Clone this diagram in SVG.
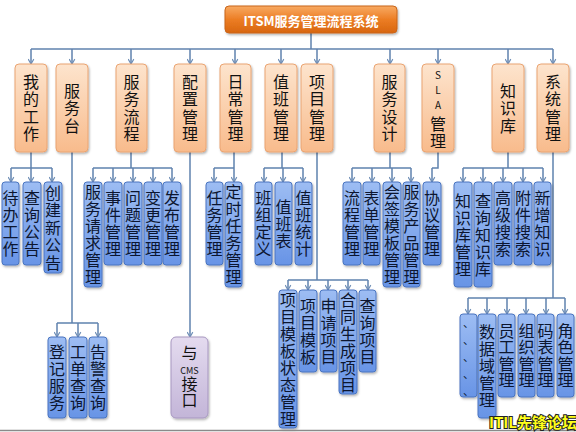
<svg xmlns="http://www.w3.org/2000/svg" width="576" height="432" viewBox="0 0 576 432">
<defs>
<linearGradient id="gTop" x1="0" y1="0" x2="0" y2="1"><stop offset="0" stop-color="#f8aa62"/><stop offset="0.5" stop-color="#ec7d24"/><stop offset="1" stop-color="#d8660f"/></linearGradient>
<linearGradient id="gOr" x1="0" y1="0" x2="0" y2="1"><stop offset="0" stop-color="#fde4cd"/><stop offset="1" stop-color="#f8bb8c"/></linearGradient>
<linearGradient id="gBl" x1="0" y1="0" x2="0" y2="1"><stop offset="0" stop-color="#9dbdf3"/><stop offset="1" stop-color="#6894e6"/></linearGradient>
<linearGradient id="gPu" x1="0" y1="0" x2="0" y2="1"><stop offset="0" stop-color="#e4dbef"/><stop offset="1" stop-color="#c3b5d8"/></linearGradient>
<filter id="sh" x="-30%" y="-10%" width="160%" height="125%"><feDropShadow dx="1" dy="1.5" stdDeviation="1" flood-color="#000" flood-opacity="0.3"/></filter>
<marker id="ar" viewBox="0 0 10 10" refX="9" refY="5" markerWidth="7" markerHeight="7" markerUnits="userSpaceOnUse" orient="auto"><path d="M2,1 L9,5 L2,9" fill="none" stroke="#6d8db5" stroke-width="1.6"/></marker>
</defs>
<style>
.top{fill:url(#gTop);stroke:#c9651a;stroke-width:1;filter:url(#sh)}
.l1{fill:url(#gOr);stroke:#eaa472;stroke-width:1;filter:url(#sh)}
.l2{fill:url(#gBl);stroke:#4a74c0;stroke-width:1;filter:url(#sh)}
.pu{fill:url(#gPu);stroke:#a797c0;stroke-width:1;filter:url(#sh)}
text{font-family:"Noto Sans CJK SC","Noto Sans",sans-serif;text-anchor:middle;dominant-baseline:central}
.v{writing-mode:vertical-rl;text-orientation:upright;letter-spacing:1px}
.v15{letter-spacing:1.5px}
.v05{letter-spacing:0.5px}
.v0{letter-spacing:0}
.tt{fill:#fff;font-weight:bold;font-size:13px}
.t1{fill:#111;font-size:16px}
.t2{fill:#0c1630;font-size:16px}
.sm{font-size:10px;letter-spacing:5px}
.cms{font-size:9px}
.dot{font-size:11px}
#conn path{fill:none;stroke:#5f82ae;stroke-width:1.5}
#conn path.a{marker-end:url(#ar)}
.wm{font-family:"Noto Sans CJK SC",sans-serif;font-weight:bold;font-size:15px;fill:#ffff1a;stroke:#222;stroke-width:2;paint-order:stroke;text-anchor:start;dominant-baseline:auto}
</style>
<rect x="0" y="0" width="576" height="432" fill="#fff"/>
<g id="conn">
<path d="M311,33 V49"/><path d="M31,49 H553"/>
<path class="a" d="M31,49 V64"/><path class="a" d="M72,49 V64"/><path class="a" d="M131,49 V64"/><path class="a" d="M190,49 V64"/><path class="a" d="M235,49 V64"/><path class="a" d="M281,49 V64"/><path class="a" d="M317,49 V64"/><path class="a" d="M390,49 V64"/><path class="a" d="M438,49 V64"/><path class="a" d="M508,49 V64"/><path class="a" d="M553,49 V64"/>
<path d="M31,152 V168 M11,168 H52"/><path class="a" d="M11,168 V182"/><path class="a" d="M31,168 V182"/><path class="a" d="M52,168 V182"/>
<path d="M72,152 V323 M57,323 H98"/><path class="a" d="M57,323 V337"/><path class="a" d="M78,323 V337"/><path class="a" d="M98,323 V337"/>
<path d="M131,152 V168 M93,168 H172"/><path class="a" d="M93,168 V182"/><path class="a" d="M113,168 V182"/><path class="a" d="M133,168 V182"/><path class="a" d="M153,168 V182"/><path class="a" d="M172,168 V182"/>
<path class="a" d="M190,152 V337"/>
<path d="M234,152 V168 M214,168 H234"/><path class="a" d="M214,168 V182"/><path class="a" d="M234,168 V182"/>
<path d="M282,152 V168 M264,168 H303"/><path class="a" d="M264,168 V182"/><path class="a" d="M283,168 V182"/><path class="a" d="M303,168 V182"/>
<path d="M317,152 V280 M288,280 H368"/><path class="a" d="M288,280 V290"/><path class="a" d="M308,280 V290"/><path class="a" d="M328,280 V290"/><path class="a" d="M348,280 V290"/><path class="a" d="M368,280 V290"/>
<path d="M390,152 V168 M352,168 H411"/><path class="a" d="M352,168 V182"/><path class="a" d="M372,168 V182"/><path class="a" d="M392,168 V182"/><path class="a" d="M411,168 V182"/>
<path d="M438,152 V168 H432"/><path class="a" d="M432,168 V182"/>
<path d="M508,152 V168 M463,168 H543"/><path class="a" d="M463,168 V182"/><path class="a" d="M483,168 V182"/><path class="a" d="M503,168 V182"/><path class="a" d="M523,168 V182"/><path class="a" d="M543,168 V182"/>
<path d="M553,152 V298 M468,298 H565"/><path class="a" d="M468,298 V314"/><path class="a" d="M487,298 V314"/><path class="a" d="M507,298 V314"/><path class="a" d="M526,298 V314"/><path class="a" d="M546,298 V314"/><path class="a" d="M565,298 V314"/>
</g>
<g id="n-root"><rect class="top" x="225" y="6" width="172" height="27" rx="4"/><text class="tt" x="311" y="20">ITSM服务管理流程系统</text></g>
<!-- level 1 -->
<g id="n-mywork"><rect class="l1" x="15" y="64" width="32" height="88" rx="4"/><text class="t1 v v15" x="31" y="108.75">我的工作</text></g>
<g id="n-desk"><rect class="l1" x="56" y="64" width="32" height="88" rx="4"/><text class="t1 v v15" x="72" y="108.75">服务台</text></g>
<g id="n-flow"><rect class="l1" x="116" y="64" width="31" height="88" rx="4"/><text class="t1 v v15" x="131.5" y="108.75">服务流程</text></g>
<g id="n-config"><rect class="l1" x="174" y="64" width="32" height="88" rx="4"/><text class="t1 v v15" x="190" y="108.75">配置管理</text></g>
<g id="n-daily"><rect class="l1" x="220" y="64" width="31" height="88" rx="4"/><text class="t1 v v15" x="235.5" y="108.75">日常管理</text></g>
<g id="n-duty"><rect class="l1" x="265" y="64" width="32" height="88" rx="4"/><text class="t1 v v15" x="281" y="108.75">值班管理</text></g>
<g id="n-project"><rect class="l1" x="301" y="64" width="32" height="88" rx="4"/><text class="t1 v v15" x="317" y="108.75">项目管理</text></g>
<g id="n-design"><rect class="l1" x="374" y="64" width="31" height="88" rx="4"/><text class="t1 v v15" x="389.5" y="108.75">服务设计</text></g>
<g id="n-sla"><rect class="l1" x="422" y="64" width="32" height="88" rx="4"/><text class="t1 v" x="438" y="110"><tspan class="sm">SLA</tspan>管理</text></g>
<g id="n-kb"><rect class="l1" x="492" y="64" width="32" height="88" rx="4"/><text class="t1 v v15" x="508" y="108.75">知识库</text></g>
<g id="n-sys"><rect class="l1" x="537" y="64" width="32" height="88" rx="4"/><text class="t1 v v15" x="553" y="108.75">系统管理</text></g>
<!-- level 2: my work -->
<g id="n-todo"><rect class="l2" x="2" y="182" width="17" height="83" rx="3"/><text class="t2 v" x="10.5" y="224">待办工作</text></g>
<g id="n-qnotice"><rect class="l2" x="23" y="182" width="18" height="83" rx="3"/><text class="t2 v" x="32" y="224">查询公告</text></g>
<g id="n-newnotice"><rect class="l2" x="44" y="182" width="18" height="91" rx="3"/><text class="t2 v v15" x="53" y="228.25">创建新公告</text></g>
<!-- service desk -->
<g id="n-reg"><rect class="l2" x="48" y="337" width="18" height="81" rx="3"/><text class="t2 v" x="57" y="378">登记服务</text></g>
<g id="n-ticket"><rect class="l2" x="69" y="337" width="18" height="81" rx="3"/><text class="t2 v" x="78" y="378">工单查询</text></g>
<g id="n-alarm"><rect class="l2" x="89" y="337" width="18" height="81" rx="3"/><text class="t2 v" x="98" y="378">告警查询</text></g>
<!-- service flow -->
<g id="n-req"><rect class="l2" x="84" y="182" width="18" height="105" rx="3"/><text class="t2 v" x="93" y="235">服务请求管理</text></g>
<g id="n-incident"><rect class="l2" x="104" y="182" width="18" height="83" rx="3"/><text class="t2 v" x="113" y="224">事件管理</text></g>
<g id="n-problem"><rect class="l2" x="124" y="182" width="18" height="83" rx="3"/><text class="t2 v" x="133" y="224">问题管理</text></g>
<g id="n-change"><rect class="l2" x="144" y="182" width="18" height="83" rx="3"/><text class="t2 v" x="153" y="224">变更管理</text></g>
<g id="n-release"><rect class="l2" x="163" y="182" width="18" height="83" rx="3"/><text class="t2 v" x="172" y="224">发布管理</text></g>
<!-- config -->
<g id="n-cms"><rect class="pu" x="171" y="337" width="37" height="81" rx="5"/><text class="t1 v v0" x="189.5" y="353">与</text><text class="t1 cms" x="189.5" y="370">CMS</text><text class="t1 v v0" x="189.5" y="392">接口</text></g>
<!-- daily -->
<g id="n-task"><rect class="l2" x="206" y="182" width="17" height="83" rx="3"/><text class="t2 v" x="214.5" y="224">任务管理</text></g>
<g id="n-timer"><rect class="l2" x="225" y="182" width="17" height="105" rx="3"/><text class="t2 v" x="233.5" y="235">定时任务管理</text></g>
<!-- duty -->
<g id="n-team"><rect class="l2" x="255" y="182" width="17" height="83" rx="3"/><text class="t2 v" x="263.5" y="224">班组定义</text></g>
<g id="n-roster"><rect class="l2" x="275" y="182" width="17" height="83" rx="3"/><text class="t2 v" x="283.5" y="224">值班表</text></g>
<g id="n-dutystat"><rect class="l2" x="295" y="182" width="17" height="83" rx="3"/><text class="t2 v" x="303.5" y="224">值班统计</text></g>
<!-- project -->
<g id="n-tplstate"><rect class="l2" x="279" y="290" width="18" height="138" rx="3"/><text class="t2 v" x="288" y="359.5">项目模板状态管理</text></g>
<g id="n-tpl"><rect class="l2" x="299" y="290" width="18" height="82" rx="3"/><text class="t2 v" x="308" y="331.5">项目模板</text></g>
<g id="n-apply"><rect class="l2" x="320" y="290" width="17" height="82" rx="3"/><text class="t2 v" x="328.5" y="331.5">申请项目</text></g>
<g id="n-contract"><rect class="l2" x="339" y="290" width="18" height="104" rx="3"/><text class="t2 v" x="348" y="342.5">合同生成项目</text></g>
<g id="n-qproj"><rect class="l2" x="359" y="290" width="17" height="82" rx="3"/><text class="t2 v" x="367.5" y="331.5">查询项目</text></g>
<!-- service design -->
<g id="n-flowmgmt"><rect class="l2" x="343" y="182" width="18" height="83" rx="3"/><text class="t2 v" x="352" y="224">流程管理</text></g>
<g id="n-form"><rect class="l2" x="363" y="182" width="17" height="83" rx="3"/><text class="t2 v" x="371.5" y="224">表单管理</text></g>
<g id="n-sign"><rect class="l2" x="383" y="182" width="18" height="105" rx="3"/><text class="t2 v" x="392" y="235">会签模板管理</text></g>
<g id="n-product"><rect class="l2" x="403" y="182" width="17" height="105" rx="3"/><text class="t2 v" x="411.5" y="235">服务产品管理</text></g>
<!-- SLA -->
<g id="n-agree"><rect class="l2" x="423" y="182" width="18" height="83" rx="3"/><text class="t2 v" x="432" y="224">协议管理</text></g>
<!-- knowledge -->
<g id="n-kbmgmt"><rect class="l2" x="454" y="182" width="18" height="105" rx="3"/><text class="t2 v" x="463" y="235">知识库管理</text></g>
<g id="n-kbquery"><rect class="l2" x="474" y="182" width="18" height="105" rx="3"/><text class="t2 v" x="483" y="235">查询知识库</text></g>
<g id="n-adv"><rect class="l2" x="494" y="182" width="18" height="83" rx="3"/><text class="t2 v" x="503" y="224">高级搜索</text></g>
<g id="n-attach"><rect class="l2" x="514" y="182" width="18" height="83" rx="3"/><text class="t2 v" x="523" y="224">附件搜索</text></g>
<g id="n-newkb"><rect class="l2" x="534" y="182" width="17" height="83" rx="3"/><text class="t2 v" x="542.5" y="224">新增知识</text></g>
<!-- system -->
<g id="n-dots"><rect class="l2" x="460" y="314" width="17" height="83" rx="3"/><text class="t2 dot" x="468.5" y="322">、</text><text class="t2 dot" x="468.5" y="339">、</text><text class="t2 dot" x="468.5" y="356">、</text><text class="t2 dot" x="468.5" y="373">、</text><text class="t2 dot" x="468.5" y="390">、</text></g>
<g id="n-domain"><rect class="l2" x="478" y="314" width="18" height="104" rx="3"/><text class="t2 v" x="487" y="366.5">数据域管理</text></g>
<g id="n-staff"><rect class="l2" x="498" y="314" width="17" height="83" rx="3"/><text class="t2 v v05" x="506.5" y="355.75">员工管理</text></g>
<g id="n-org"><rect class="l2" x="518" y="314" width="17" height="83" rx="3"/><text class="t2 v v05" x="526.5" y="355.75">组织管理</text></g>
<g id="n-code"><rect class="l2" x="537" y="314" width="17" height="83" rx="3"/><text class="t2 v v05" x="545.5" y="355.75">码表管理</text></g>
<g id="n-role"><rect class="l2" x="557" y="314" width="17" height="83" rx="3"/><text class="t2 v v05" x="565.5" y="355.75">角色管理</text></g>
<line x1="0" y1="430.5" x2="576" y2="430.5" stroke="#8a8a8a" stroke-width="1.5"/>
<text class="wm" x="489" y="428">ITIL先锋论坛</text>
</svg>
